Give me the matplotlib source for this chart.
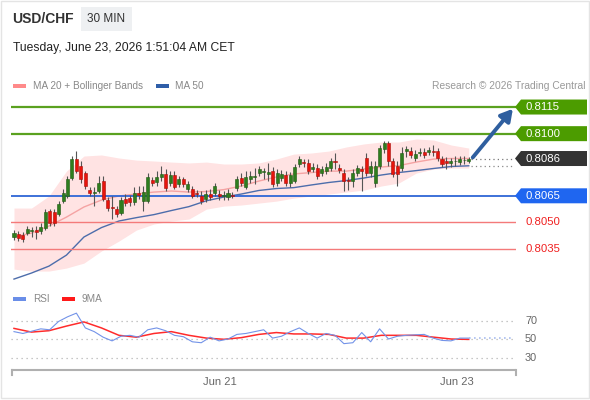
import numpy as np
import matplotlib
matplotlib.use("Agg")
import matplotlib.pyplot as plt
from matplotlib.patches import Rectangle, Polygon
from matplotlib.transforms import blended_transform_factory

plt.rcParams['font.family'] = ['Liberation Sans', 'DejaVu Sans']

# 30 min candles, USD/CHF
opens = [0.80418, 0.80435, 0.80429, 0.80440, 0.80451, 0.80457, 0.80451, 0.80468, 0.80564, 0.80558,
         0.80547, 0.80620, 0.80649, 0.80750, 0.80857, 0.80818, 0.80778, 0.80682, 0.80665, 0.80677,
         0.80733, 0.80626, 0.80587, 0.80575, 0.80553, 0.80632, 0.80637, 0.80615, 0.80665, 0.80620,
         0.80620, 0.80739, 0.80727, 0.80756, 0.80773, 0.80722, 0.80767, 0.80716, 0.80744, 0.80688,
         0.80688, 0.80665, 0.80649, 0.80632, 0.80660, 0.80665, 0.80660, 0.80649, 0.80643, 0.80654,
         0.80694, 0.80750, 0.80699, 0.80744, 0.80756, 0.80778, 0.80784, 0.80773, 0.80789, 0.80722,
         0.80750, 0.80767, 0.80722, 0.80733, 0.80829, 0.80840, 0.80835, 0.80801, 0.80806, 0.80778,
         0.80789, 0.80806, 0.80846, 0.80806, 0.80778, 0.80739, 0.80733, 0.80778, 0.80801, 0.80863,
         0.80778, 0.80722, 0.80818, 0.80913, 0.80947, 0.80846, 0.80818, 0.80806, 0.80902, 0.80902,
         0.80863, 0.80891, 0.80896, 0.80896, 0.80902, 0.80902, 0.80857, 0.80846, 0.80835, 0.80846,
         0.80840, 0.80851, 0.80846]
highs = [0.80457, 0.80451, 0.80446, 0.80480, 0.80474, 0.80480, 0.80496, 0.80575, 0.80575, 0.80575,
         0.80620, 0.80688, 0.80761, 0.80874, 0.80902, 0.80846, 0.80789, 0.80699, 0.80699, 0.80761,
         0.80761, 0.80643, 0.80649, 0.80592, 0.80643, 0.80660, 0.80654, 0.80699, 0.80705, 0.80705,
         0.80778, 0.80756, 0.80789, 0.80818, 0.80801, 0.80789, 0.80789, 0.80761, 0.80756, 0.80733,
         0.80705, 0.80682, 0.80677, 0.80682, 0.80688, 0.80722, 0.80682, 0.80677, 0.80688, 0.80671,
         0.80761, 0.80778, 0.80789, 0.80789, 0.80806, 0.80818, 0.80806, 0.80835, 0.80812, 0.80801,
         0.80795, 0.80789, 0.80784, 0.80829, 0.80874, 0.80857, 0.80857, 0.80835, 0.80829, 0.80818,
         0.80835, 0.80863, 0.80891, 0.80829, 0.80801, 0.80756, 0.80801, 0.80823, 0.80818, 0.80891,
         0.80846, 0.80846, 0.80936, 0.80958, 0.80958, 0.80863, 0.80846, 0.80925, 0.80930, 0.80925,
         0.80908, 0.80919, 0.80919, 0.80925, 0.80936, 0.80919, 0.80874, 0.80868, 0.80863, 0.80874,
         0.80874, 0.80874, 0.80868]
lows = [0.80401, 0.80395, 0.80390, 0.80429, 0.80418, 0.80406, 0.80435, 0.80457, 0.80480, 0.80480,
        0.80536, 0.80609, 0.80637, 0.80739, 0.80778, 0.80722, 0.80688, 0.80649, 0.80592, 0.80665,
        0.80620, 0.80564, 0.80519, 0.80530, 0.80542, 0.80592, 0.80592, 0.80598, 0.80632, 0.80564,
        0.80609, 0.80705, 0.80705, 0.80733, 0.80677, 0.80705, 0.80688, 0.80699, 0.80699, 0.80671,
        0.80637, 0.80643, 0.80603, 0.80615, 0.80626, 0.80649, 0.80626, 0.80626, 0.80626, 0.80637,
        0.80677, 0.80705, 0.80688, 0.80722, 0.80716, 0.80761, 0.80744, 0.80733, 0.80699, 0.80705,
        0.80733, 0.80705, 0.80699, 0.80722, 0.80812, 0.80812, 0.80773, 0.80784, 0.80744, 0.80761,
        0.80773, 0.80789, 0.80801, 0.80778, 0.80677, 0.80682, 0.80699, 0.80761, 0.80677, 0.80761,
        0.80756, 0.80699, 0.80801, 0.80891, 0.80818, 0.80756, 0.80705, 0.80789, 0.80868, 0.80863,
        0.80846, 0.80874, 0.80863, 0.80880, 0.80874, 0.80846, 0.80812, 0.80801, 0.80812, 0.80818,
        0.80823, 0.80829, 0.80835]
closes = [0.80440, 0.80412, 0.80406, 0.80463, 0.80457, 0.80446, 0.80474, 0.80558, 0.80496, 0.80496,
          0.80603, 0.80665, 0.80744, 0.80857, 0.80789, 0.80744, 0.80705, 0.80665, 0.80671, 0.80722,
          0.80632, 0.80581, 0.80581, 0.80547, 0.80626, 0.80609, 0.80615, 0.80665, 0.80654, 0.80671,
          0.80756, 0.80722, 0.80756, 0.80773, 0.80694, 0.80767, 0.80699, 0.80744, 0.80716, 0.80716,
          0.80649, 0.80660, 0.80620, 0.80660, 0.80643, 0.80705, 0.80649, 0.80654, 0.80665, 0.80649,
          0.80744, 0.80722, 0.80756, 0.80761, 0.80761, 0.80801, 0.80789, 0.80784, 0.80716, 0.80778,
          0.80773, 0.80722, 0.80767, 0.80812, 0.80857, 0.80835, 0.80789, 0.80812, 0.80761, 0.80801,
          0.80812, 0.80846, 0.80840, 0.80795, 0.80733, 0.80733, 0.80778, 0.80806, 0.80789, 0.80778,
          0.80818, 0.80818, 0.80919, 0.80947, 0.80846, 0.80773, 0.80773, 0.80891, 0.80913, 0.80880,
          0.80885, 0.80896, 0.80880, 0.80908, 0.80896, 0.80863, 0.80829, 0.80835, 0.80846, 0.80846,
          0.80857, 0.80851, 0.80857]

# indicators, sampled evenly across the candles
ma20 = [0.80418, 0.80440, 0.80480, 0.80530, 0.80587, 0.80626, 0.80649, 0.80660, 0.80671, 0.80677,
        0.80671, 0.80674, 0.80685, 0.80705, 0.80733, 0.80756, 0.80773, 0.80781, 0.80789, 0.80789,
        0.80801, 0.80812, 0.80820, 0.80840, 0.80857, 0.80860, 0.80860]
bb_upper = [0.80581, 0.80581, 0.80649, 0.80789, 0.80874, 0.80880, 0.80863, 0.80851, 0.80846, 0.80840,
            0.80835, 0.80840, 0.80829, 0.80829, 0.80835, 0.80857, 0.80885, 0.80891, 0.80902, 0.80925,
            0.80942, 0.80953, 0.80953, 0.80970, 0.80964, 0.80936, 0.80919]
bb_lower = [0.80237, 0.80226, 0.80226, 0.80243, 0.80271, 0.80339, 0.80395, 0.80457, 0.80491, 0.80508,
            0.80519, 0.80575, 0.80592, 0.80598, 0.80609, 0.80620, 0.80637, 0.80649, 0.80660, 0.80671,
            0.80682, 0.80705, 0.80722, 0.80778, 0.80801, 0.80806, 0.80806]
ma50 = [0.80181, 0.80215, 0.80254, 0.80316, 0.80418, 0.80471, 0.80508, 0.80527, 0.80544, 0.80567,
        0.80589, 0.80622, 0.80643, 0.80660, 0.80680, 0.80691, 0.80696, 0.80711, 0.80725, 0.80736,
        0.80750, 0.80767, 0.80781, 0.80792, 0.80804, 0.80815, 0.80819]

rsi = [58, 56, 58.5, 61, 60, 69, 74, 78, 62, 58, 52, 48, 53, 54, 52, 60, 62, 59, 54, 52.5,
       47, 46, 52, 48, 50, 55, 56, 58, 60, 51, 53, 58, 62, 56, 51, 56, 54, 45, 46, 57,
       47, 61, 50, 53, 54, 54.5, 55, 51, 48.5, 48, 51, 51]
rsi_ma9 = [61.5, 57.5, 59, 64, 68.5, 62, 54, 52, 56, 58, 54, 51, 49.7, 51.5, 55, 57, 55.5, 55.5,
           55, 51, 51, 54, 54, 54, 52, 50, 49.6]

levels = [0.8115, 0.8100, 0.8086, 0.8065, 0.8050, 0.8035]
level_labels = ['0.8115', '0.8100', '0.8086', '0.8065', '0.8050', '0.8035']
rsi_levels = [70, 50, 30]
date_pos = [46.2, 99.3]
date_labels = ['Jun 21', 'Jun 23']

W, H = 590, 400
fig = plt.figure(figsize=(5.9, 4.0), dpi=100)
fig.patch.set_facecolor('white')


def fx(px):
    return px / W


def fy(py):
    return 1 - py / H


n = len(closes)
idx = np.arange(n)
xlim = (-0.67, 112.6)

# price panel
ax = fig.add_axes([fx(11), fy(286), (516 - 11) / W, (286 - 93) / H])
ax.set_xlim(*xlim)
ax.set_ylim(0.80142, 0.81229)
ax.axis('off')

bx = np.linspace(0, n - 1, len(ma20))
ax.fill_between(bx, bb_lower, bb_upper, color='#ffe3e3', lw=0, zorder=1)
ax.plot(bx, ma20, color='#f5a3a3', lw=1, zorder=2)
ax.plot(bx, ma50, color='#4d6dab', lw=1, zorder=2)

ax.axhline(levels[0], color='#5aa11f', lw=1.6, zorder=2)
ax.axhline(levels[1], color='#5aa11f', lw=1.6, zorder=2)
ax.axhline(levels[3], color='#2e66d6', lw=1.3, zorder=2)
ax.axhline(levels[4], color='#f47a7a', lw=1, zorder=2)
ax.axhline(levels[5], color='#f47a7a', lw=1, zorder=2)

o = np.array(opens)
c = np.array(closes)
up = c >= o
ax.vlines(idx, lows, highs, color='#555555', lw=0.8, zorder=3)
ax.bar(idx, np.maximum(np.abs(c - o), 0.00002), bottom=np.minimum(o, c), width=0.68,
       color=np.where(up, '#2f7d1e', '#e8140c'), edgecolor=np.where(up, '#1f5a12', '#a50e08'),
       lw=0.4, zorder=4)

# dotted extensions after the last candle
ax.plot([n - 0.5, 112], [closes[-1]] * 2, ls=(0, (1, 2.5)), color='#777777', lw=0.9)
ax.plot([n - 0.5, 112], [ma50[-1]] * 2, ls=(0, (1, 2.5)), color='#888888', lw=0.9)

ax.annotate('', xy=(111.9, 0.81140), xytext=(102.9, 0.80866),
            arrowprops=dict(arrowstyle='-|>,head_length=0.7,head_width=0.4',
                            color='#2f5f9f', lw=2.8, shrinkA=0, shrinkB=0),
            annotation_clip=False, zorder=6)

# RSI panel
rx = fig.add_axes([fx(11), fy(370), (516 - 11) / W, (370 - 305) / H])
rx.set_xlim(*xlim)
rx.set_ylim(16.5, 86.8)
rx.axis('off')
rx.hlines(rsi_levels, xlim[0], 111.9, colors='#b5b5b5', linestyles=(0, (1, 3)), lw=0.9)
rx.plot(np.linspace(0, n - 1, len(rsi)), rsi, color='#7393e8', lw=0.8, zorder=3)
rx.plot(np.linspace(0, n - 1, len(rsi_ma9)), rsi_ma9, color='#ff2b2b', lw=1.1, zorder=2)
rx.plot([n - 1, 112], [rsi[-1]] * 2, ls=(0, (1, 2)), color='#a9bdf0', lw=1.2)
tr_r = blended_transform_factory(rx.transData, rx.transAxes)
for p, lab in zip(date_pos, date_labels):
    rx.text(p, -0.185, lab, transform=tr_r, ha='center', va='center', fontsize=8, color='#666666')

# overlay in pixel coordinates
ov = fig.add_axes([0, 0, 1, 1], zorder=5)
ov.set_xlim(0, W)
ov.set_ylim(H, 0)
ov.axis('off')

ov.add_patch(Rectangle((0.5, 0.5), W - 1.5, H - 2.5, fill=False, ec='#e4e4e4', lw=1))
ov.text(12, 19, 'USD/CHF', fontsize=10, fontweight='bold', color='#333333', va='center')
ov.add_patch(Rectangle((81, 7), 51, 24, fc='#eef0f2', ec='none'))
ov.text(106.5, 19, '30 MIN', fontsize=8.5, color='#333333', ha='center', va='center')
ov.text(13, 48, 'Tuesday, June 23, 2026 1:51:04 AM CET', fontsize=8.7, color='#222222', va='center')

ov.add_patch(Rectangle((13, 84), 13, 4, fc='#ff8a8a', ec='none'))
ov.text(33, 86, 'MA 20 + Bollinger Bands', fontsize=7.2, color='#888888', va='center')
ov.add_patch(Rectangle((156, 84), 13, 4, fc='#2f5ea8', ec='none'))
ov.text(175, 86, 'MA 50', fontsize=7.2, color='#888888', va='center')
ov.text(586, 86, 'Research \u00a9 2026 Trading Central', fontsize=7.4, color='#999999',
        ha='right', va='center')

ov.add_patch(Rectangle((13, 297), 13, 4, fc='#6a8ee8', ec='none'))
ov.text(33, 299, 'RSI', fontsize=7.2, color='#888888', va='center')
ov.add_patch(Rectangle((62, 297), 13, 4, fc='#ff1a1a', ec='none'))
ov.text(82, 299, '9MA', fontsize=7.2, color='#888888', va='center')

# RSI scale labels
for lv in rsi_levels:
    yp = H - rx.transData.transform((0, lv))[1]
    ov.text(525, yp, str(lv), fontsize=7.8, color='#666666', va='center')

# bottom axis line with end ticks
ov.plot([11, 516], [370, 370], color='#b0b0b0', lw=1.5, solid_capstyle='butt')
ov.plot([11.5, 11.5], [370, 375], color='#b0b0b0', lw=1.5)
ov.plot([515.5, 515.5], [370, 375], color='#b0b0b0', lw=1.5)

# price tags on the right
tag_colors = ['#4c9c00', '#4c9c00', '#333333', '#1f66f0', None, None]
for lv, lab, tc in zip(levels, level_labels, tag_colors):
    yp = H - ax.transData.transform((0, lv))[1]
    if tc is None:
        ov.text(525, yp, lab, fontsize=8.2, color='#f02020', va='center')
        continue
    ov.add_patch(Polygon([(515, yp), (521, yp - 7.5), (587, yp - 7.5), (587, yp + 7.5), (521, yp + 7.5)],
                         closed=True, fc=tc, ec='none'))
    ov.text(525, yp, lab, fontsize=8.2, color='white', va='center')

fig.savefig('out.png', dpi=100)
